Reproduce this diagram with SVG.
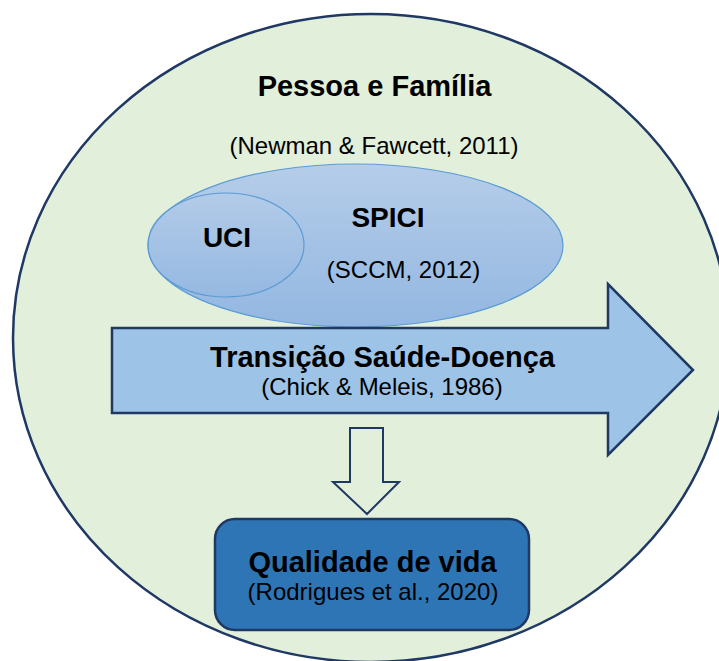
<svg xmlns="http://www.w3.org/2000/svg" width="719" height="661" viewBox="0 0 719 661">
  <defs>
    <linearGradient id="blueGrad" x1="0" y1="0" x2="0" y2="1">
      <stop offset="0" stop-color="#b5cde9"/>
      <stop offset="1" stop-color="#93b7e1"/>
    </linearGradient>
    <style>
      .title { font-family: "Liberation Sans", Arial, sans-serif; font-weight: bold; font-size: 29px; fill: #000; text-anchor: middle; }
      .ref { font-family: "Liberation Sans", Arial, sans-serif; font-size: 24px; fill: #000; text-anchor: middle; }
      .navy { stroke: #1f3864; stroke-width: 2.5; }
      .soft { fill: url(#blueGrad); stroke: #5b9bd5; stroke-width: 1.2; }
    </style>
  </defs>
  <rect width="719" height="661" fill="#ffffff"/>

  <g id="pessoa-familia">
    <ellipse cx="371" cy="338" rx="358" ry="324" fill="#e2efda" class="navy"/>
    <text class="title" x="374.5" y="96">Pessoa e Família</text>
    <text class="ref" x="374" y="154">(Newman &amp; Fawcett, 2011)</text>
  </g>

  <g id="spici">
    <ellipse cx="355.5" cy="245.5" rx="207.5" ry="81.5" class="soft"/>
    <text class="title" x="388" y="227" style="font-size:28px">SPICI</text>
    <text class="ref" x="403.5" y="278">(SCCM, 2012)</text>
  </g>

  <g id="uci">
    <ellipse cx="226" cy="245" rx="78" ry="52" class="soft" fill-opacity="0.6"/>
    <text class="title" x="227" y="247" style="font-size:28px">UCI</text>
  </g>

  <g id="transicao">
    <path d="M112,328 L608,328 L608,284 L693,370 L608,455 L608,413 L112,413 Z" fill="#9dc3e6" class="navy" stroke-linejoin="miter"/>
    <text class="title" x="382.5" y="367">Transição Saúde-Doença</text>
    <text class="ref" x="382" y="395">(Chick &amp; Meleis, 1986)</text>
  </g>

  <g id="connectors">
    <path d="M350,428 L383,428 L383,482 L399,482 L367,514 L333,482 L350,482 Z" fill="#e2efda" stroke="#1f3864" stroke-width="2"/>
  </g>

  <g id="qualidade-de-vida">
    <rect x="215" y="519" width="314" height="111" rx="20" ry="20" fill="#2e75b6" class="navy"/>
    <text class="title" x="372.5" y="572">Qualidade de vida</text>
    <text class="ref" x="373" y="600">(Rodrigues et al., 2020)</text>
  </g>
</svg>
